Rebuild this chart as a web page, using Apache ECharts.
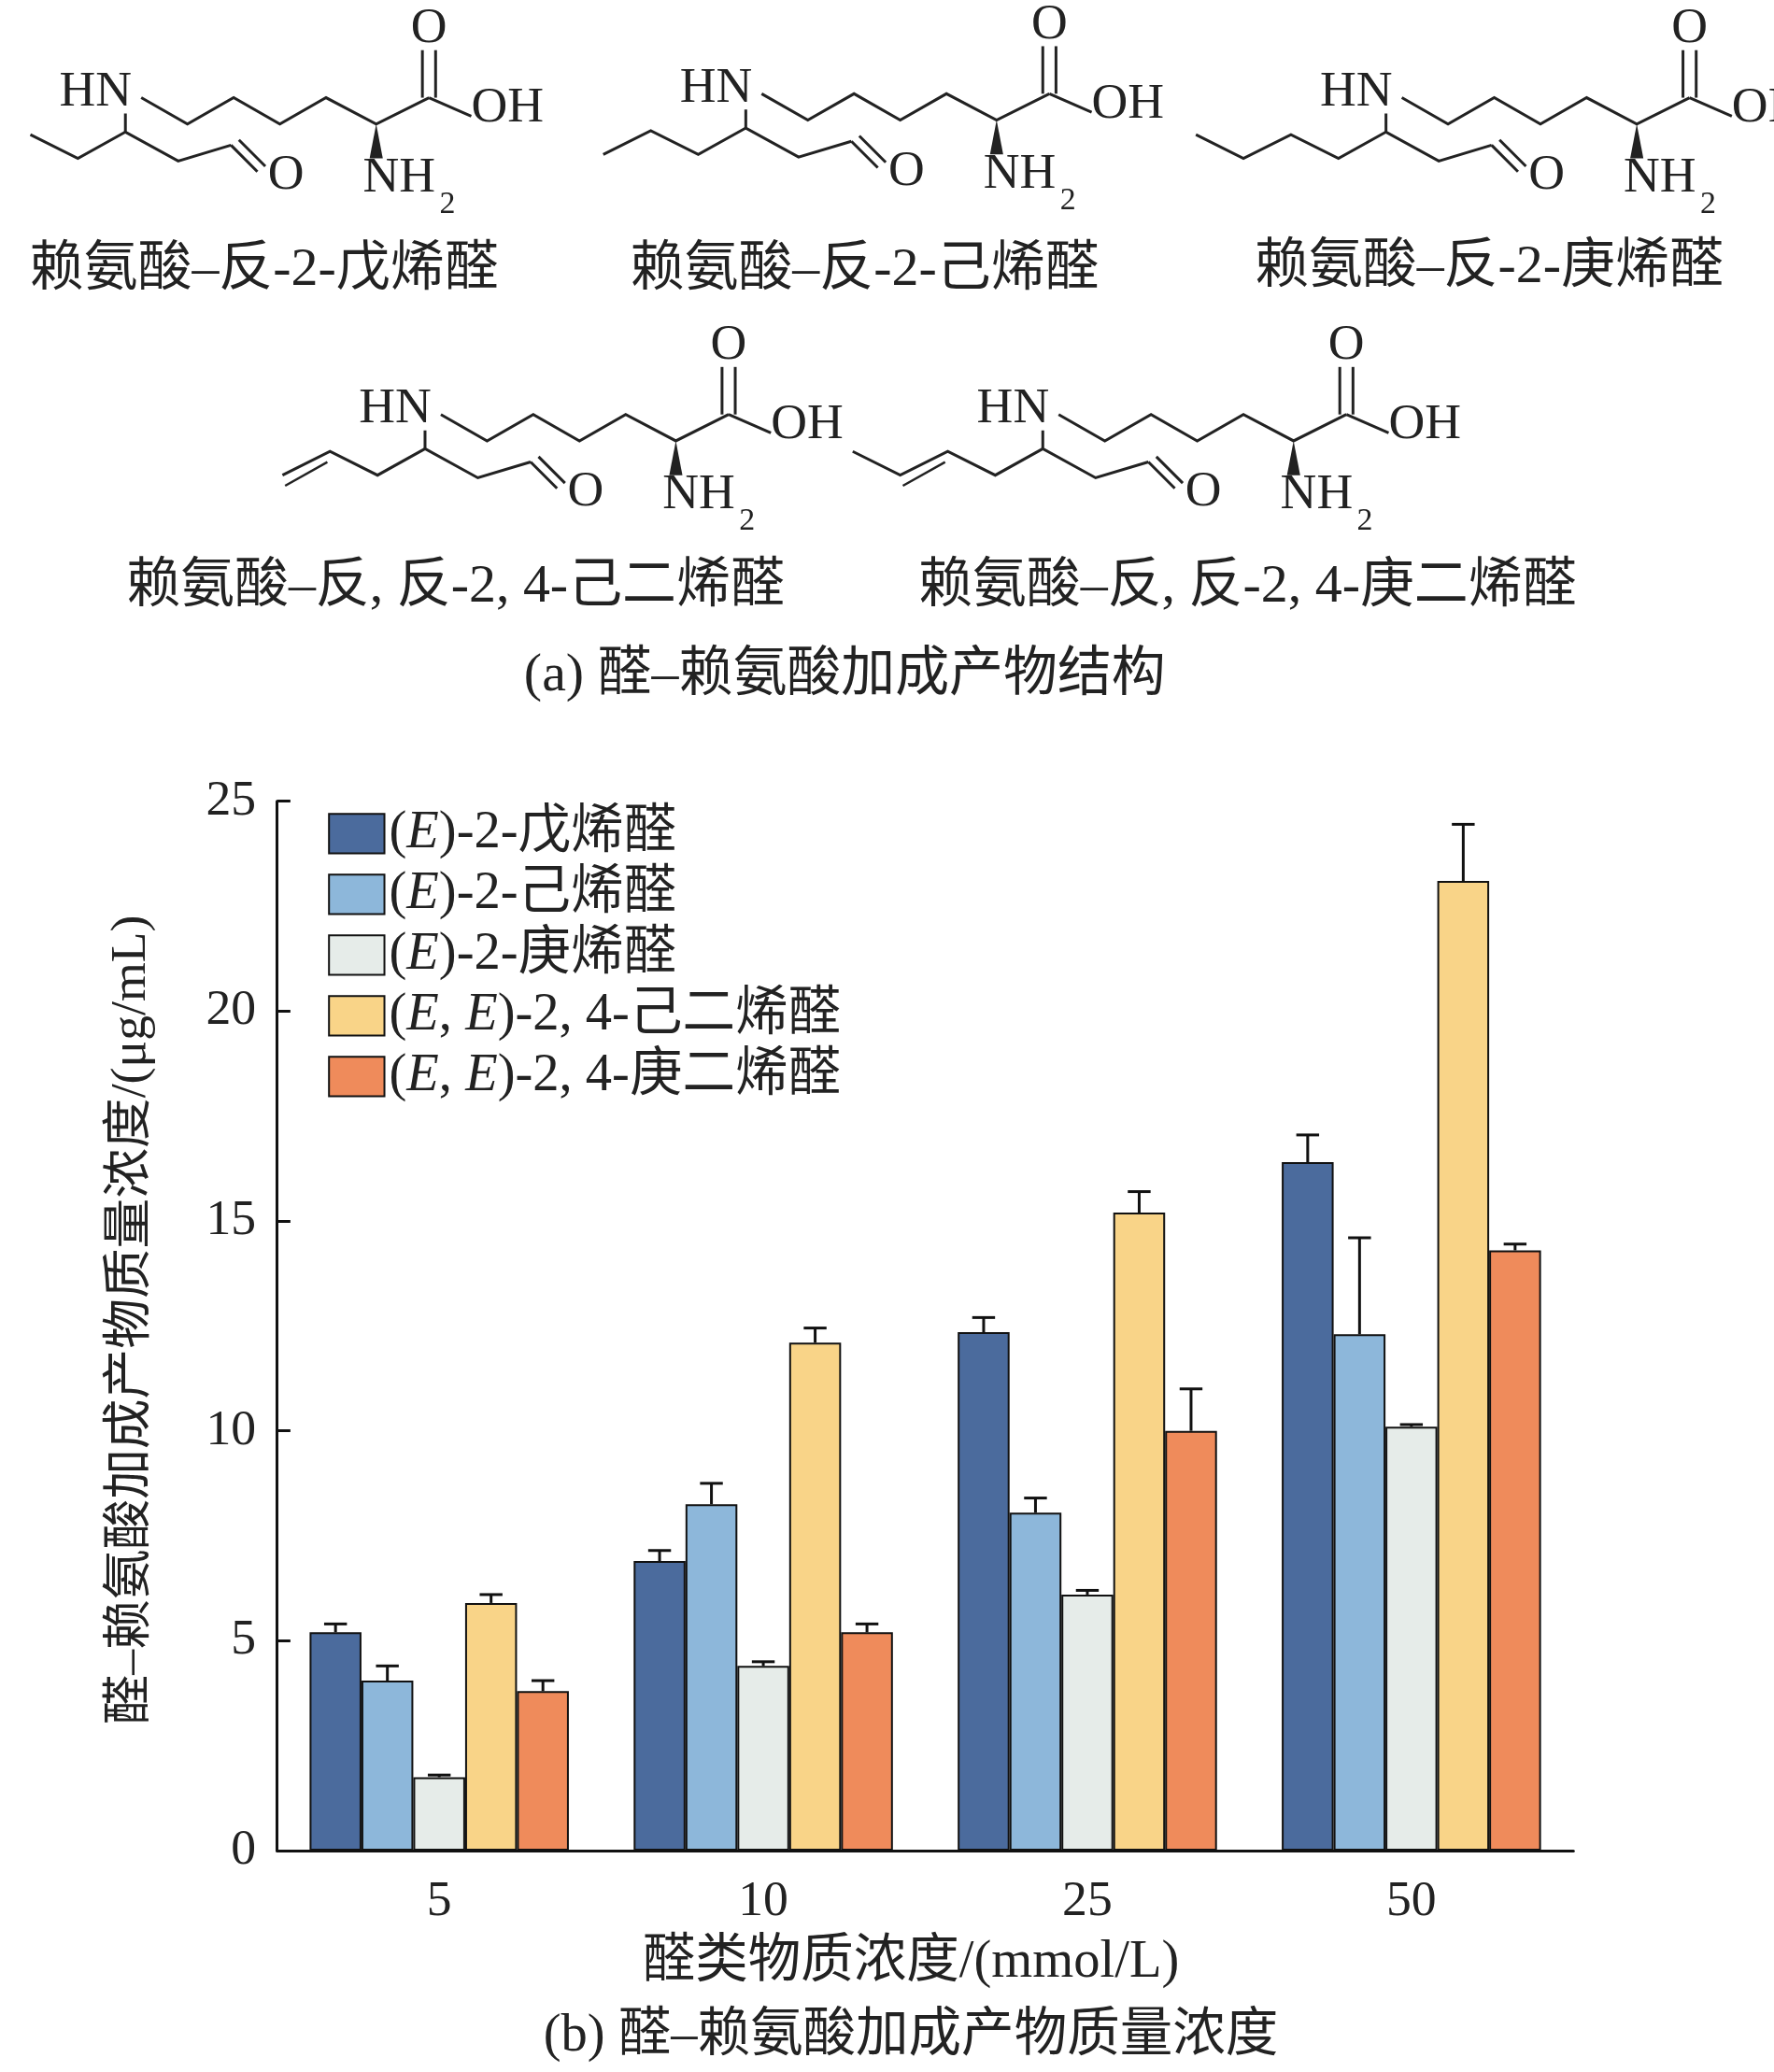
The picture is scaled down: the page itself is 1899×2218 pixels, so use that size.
<!DOCTYPE html>
<html><head><meta charset="utf-8">
<script src="https://cdn.jsdelivr.net/npm/echarts@6/dist/echarts.min.js"></script>
<style>html,body{margin:0;background:#fff}#c{width:1899px;height:2218px}</style>
</head><body><div id="c"></div>
<script>
const categories = ['5', '10', '25', '50']
const seriesNames = ['(E)-2-戊烯醛', '(E)-2-己烯醛', '(E)-2-庚烯醛', '(E, E)-2, 4-己二烯醛', '(E, E)-2, 4-庚二烯醛']
const pentenal = [5.2, 6.9, 12.35, 16.4]
const hexenal = [4.05, 8.25, 8.05, 12.3]
const heptenal = [1.75, 4.4, 6.1, 10.1]
const hexadienal = [5.9, 12.1, 15.2, 23.1]
const heptadienal = [3.8, 5.2, 10.0, 14.3]
const pentenalErr = [0.2, 0.25, 0.35, 0.65]
const hexenalErr = [0.35, 0.5, 0.35, 2.3]
const heptenalErr = [0.05, 0.1, 0.1, 0.05]
const hexadienalErr = [0.2, 0.35, 0.5, 1.35]
const heptadienalErr = [0.25, 0.2, 1.0, 0.15]
const yTicks = [0, 5, 10, 15, 20, 25]

const values = [pentenal, hexenal, heptenal, hexadienal, heptadienal]
const errors = [pentenalErr, hexenalErr, heptenalErr, hexadienalErr, heptadienalErr]
const colors = ['#4b6b9d', '#8db7da', '#e6ece9', '#f9d488', '#ef8b5b']
const s = 1.413
const S = v => v * s
const serif = '"Liberation Serif", "Noto Sans CJK SC", serif'
const gap = 0.2

// structure drawings (top panel)
const graphics = []
function line (pts, ox, oy, w) {
  graphics.push({ type: 'polyline', shape: { points: pts.map(p => [S(p[0] + ox), S(p[1] + oy)]) }, style: { stroke: '#222', lineWidth: w || 3, fill: null } })
}
function txt (t, x, y, size, align) {
  graphics.push({ type: 'text', x: S(x), y: S(y), style: { text: t, font: `${S(size)}px ${serif}`, fill: '#222', align: align || 'left', verticalAlign: 'middle' } })
}
function structure (ox, oy, tail, dbl) {
  txt('HN', ox + 50, oy + 70, 38)
  line([[112, 74], [147, 94], [182, 74], [217, 94], [252, 74], [290, 94], [330, 74]], ox, oy)
  graphics.push({ type: 'polygon', shape: { points: [[S(ox + 290), S(oy + 94)], [S(ox + 285), S(oy + 120)], [S(ox + 295), S(oy + 120)]] }, style: { fill: '#222' } })
  txt('NH', ox + 280, oy + 135, 38); txt('2', ox + 338, oy + 155, 24)
  line([[330, 74], [330, 38]], ox - 5, oy); line([[330, 74], [330, 38]], ox + 5, oy)
  txt('O', ox + 330, oy + 22, 38, 'center')
  line([[330, 74], [362, 88]], ox, oy)
  txt('OH', ox + 362, oy + 82, 38)
  line([[100, 86], [100, 100], [140, 122], [180, 110]], ox, oy)
  line([[180, 110], [200, 130]], ox, oy); line([[186, 106], [206, 126]], ox, oy)
  txt('O', ox + 208, oy + 133, 38)
  const xs = [64, 28, -8, -44]
  let pts = [[100, 100]]
  for (let i = 0; i < tail; i++) pts.push([xs[i], i % 2 === 0 ? 120 : 102])
  line(pts, ox, oy)
  if (dbl != null) {
    const a = pts[dbl], b = pts[dbl + 1]
    line([[a[0] - 2, a[1] + 8], [b[0] + 2, b[1] + 8]], ox, oy, 2.5)
  }
}
structure(-5, 0, 2); structure(465, -3, 3); structure(950, 0, 4)
structure(222, 240, 3, 2); structure(690, 240, 4, 2)
const labelSize = 41
txt('赖氨酸–反-2-戊烯醛', 200, 205, labelSize, 'center')
txt('赖氨酸–反-2-己烯醛', 655, 205, labelSize, 'center')
txt('赖氨酸–反-2-庚烯醛', 1128, 203, labelSize, 'center')
txt('赖氨酸–反, 反-2, 4-己二烯醛', 345, 445, labelSize, 'center')
txt('赖氨酸–反, 反-2, 4-庚二烯醛', 945, 445, labelSize, 'center')
txt('(a) 醛–赖氨酸加成产物结构', 640, 512, labelSize, 'center')
txt('醛类物质浓度/(mmol/L)', 690, 1487, 40, 'center')
txt('(b) 醛–赖氨酸加成产物质量浓度', 690, 1543, 40, 'center')
graphics.push({ type: 'text', x: S(100), y: S(1000), rotation: Math.PI / 2, style: { text: '醛–赖氨酸加成产物质量浓度/(μg/mL)', font: `${S(38)}px ${serif}`, fill: '#222', align: 'center', verticalAlign: 'middle' } })

const rich = { i: { fontStyle: 'italic', fontFamily: serif, fontSize: S(40), color: '#222' }, n: { fontFamily: serif, fontSize: S(40), color: '#222' } }
function legendFmt (name) {
  return name.split(/(E)/).filter(x => x).map(p => p === 'E' ? '{i|E}' : `{n|${p}}`).join('')
}

const series = []
values.forEach((v, i) => {
  series.push({
    name: seriesNames[i], type: 'bar', data: v, barGap: '0%', barCategoryGap: gap * 100 + '%',
    itemStyle: { color: colors[i], borderColor: '#111', borderWidth: 2 }
  })
})
values.forEach((v, i) => {
  series.push({
    type: 'custom', silent: true, z: 5,
    data: v.map((val, j) => [j, val, errors[i][j]]),
    encode: { x: 0, y: 1 },
    renderItem: (params, api) => {
      const band = api.size([1, 0])[0]
      const bw = band * (1 - gap) / 5
      const c = api.coord([api.value(0), api.value(1)])
      const top = api.coord([api.value(0), api.value(1) + api.value(2)])
      const x = c[0] + (i - 2) * bw
      const cap = bw * 0.22
      return {
        type: 'group', children: [
          { type: 'line', shape: { x1: x, y1: c[1], x2: x, y2: top[1] }, style: { stroke: '#111', lineWidth: 3 } },
          { type: 'line', shape: { x1: x - cap, y1: top[1], x2: x + cap, y2: top[1] }, style: { stroke: '#111', lineWidth: 3 } }
        ]
      }
    }
  })
})

const chart = echarts.init(document.getElementById('c'))
chart.setOption({
  animation: false,
  backgroundColor: '#fff',
  graphic: graphics,
  grid: { left: S(210), top: S(607), width: S(982), height: S(795) },
  legend: {
    data: seriesNames, orient: 'vertical', left: S(245), top: S(608), itemGap: S(6),
    itemWidth: S(42), itemHeight: S(30), icon: 'rect', formatter: legendFmt,
    textStyle: { rich }
  },
  xAxis: {
    type: 'category', data: categories,
    axisLine: { lineStyle: { color: '#111', width: 3 } }, axisTick: { show: false },
    axisLabel: { fontFamily: serif, fontSize: S(38), color: '#222', margin: S(20) }
  },
  yAxis: {
    type: 'value', min: 0, max: 25, interval: 5,
    axisLine: { show: true, lineStyle: { color: '#111', width: 3 } },
    axisTick: { show: true, inside: true, length: S(10), lineStyle: { width: 3 } },
    splitLine: { show: false },
    axisLabel: { fontFamily: serif, fontSize: S(38), color: '#222', margin: S(16), formatter: v => yTicks.includes(v) ? String(v) : '' }
  },
  series
})
</script></body></html>
